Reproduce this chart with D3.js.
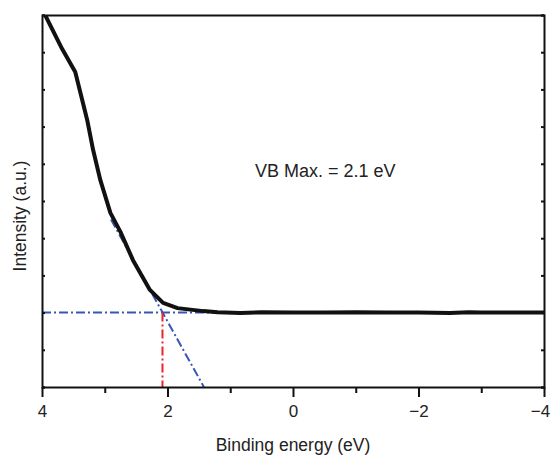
<!DOCTYPE html>
<html>
<head>
<meta charset="utf-8">
<script src="https://cdn.jsdelivr.net/npm/d3@7/dist/d3.min.js"></script>
<style>
  body { margin: 0; background: #fff; }
  svg { display: block; font-family: "Liberation Sans", Arial, sans-serif; }
</style>
</head>
<body>
<svg class="chart" width="552" height="455"></svg>
<script>
// spectrum: binding energy (eV) / intensity (a.u.)
const energy = [4.0, 3.95, 3.68, 3.47, 3.28, 3.185, 3.07, 2.91, 2.75, 2.55, 2.28, 2.07, 1.84, 1.43, 1.2, 0.84, 0.5, 0.0, -0.5, -1.0, -1.5, -2.0, -2.5, -2.8, -3.0, -3.5, -4.0];
const intensity = [10.2, 10.0, 9.09, 8.47, 7.18, 6.37, 5.56, 4.68, 4.17, 3.41, 2.61, 2.26, 2.12, 2.04, 2.01, 1.99, 2.01, 2.0, 2.0, 2.01, 2.0, 2.0, 1.99, 2.01, 2.0, 2.0, 2.0];
const baseline = 2.0;
const vbMax = 2.08;
const tangentE = [2.9, 1.42];
const tangentI = [4.5, 0];
const xTicks = [4, 3, 2, 1, 0, -1, -2, -3, -4];
const xLabels = ['4', '', '2', '', '0', '', '\u22122', '', '\u22124'];
const yTicks = [0, 1, 2, 3, 4, 5, 6, 7, 8, 9, 10];

const startApp = () => {
  const margin = { top: 15, left: 42, bottom: 68, right: 8 };
  const width = 552 - margin.left - margin.right;
  const height = 455 - margin.top - margin.bottom;
  const xScale = d3.scaleLinear().domain([4, -4]).range([0, width]);
  const yScale = d3.scaleLinear().domain([0, 10]).range([height, 0]);

  const svg = d3.select('.chart');
  const chart = svg.append('g')
    .attr('transform', `translate(${margin.left}, ${margin.top})`);

  svg.append('clipPath').attr('id', 'plot')
    .append('rect').attr('x', 0).attr('y', 0).attr('width', width).attr('height', height);

  const spectrum = energy.map((e, i) => [e, intensity[i]]);
  const line = d3.line().x(d => xScale(d[0])).y(d => yScale(d[1]));

  // fit lines
  chart.append('path')
    .datum([[4, baseline], [-4, baseline]])
    .attr('d', line)
    .attr('fill', 'none').attr('stroke', '#3556b8').attr('stroke-width', 2)
    .attr('stroke-dasharray', '9,3,2,3');

  chart.append('path')
    .datum(tangentE.map((e, i) => [e, tangentI[i]]))
    .attr('d', line)
    .attr('fill', 'none').attr('stroke', '#3556b8').attr('stroke-width', 2)
    .attr('stroke-dasharray', '9,3,2,3');

  chart.append('path')
    .datum([[vbMax, baseline], [vbMax, 0]])
    .attr('d', line)
    .attr('fill', 'none').attr('stroke', '#e8262a').attr('stroke-width', 2)
    .attr('stroke-dasharray', '9,3,2,3');

  chart.append('path')
    .datum(spectrum)
    .attr('clip-path', 'url(#plot)')
    .attr('d', line)
    .attr('fill', 'none').attr('stroke', '#111').attr('stroke-width', 4)
    .attr('stroke-linejoin', 'round');

  // axes
  const xAxis = d3.axisBottom(xScale).tickValues(xTicks)
    .tickFormat((d, i) => xLabels[i]).tickSizeOuter(0).tickPadding(12);
  const gx = chart.append('g').attr('transform', `translate(0, ${height})`).call(xAxis);
  gx.selectAll('.tick line').attr('y2', (d, i) => xLabels[i] ? 10 : 6);

  chart.append('g').call(d3.axisLeft(yScale).tickValues(yTicks).tickSize(-3).tickFormat(''));
  chart.append('g').attr('transform', `translate(${width}, 0)`)
    .call(d3.axisRight(yScale).tickValues(yTicks).tickSize(-3).tickFormat(''));
  chart.append('g').call(d3.axisTop(xScale).tickValues(xTicks).tickSize(0).tickFormat(''));

  chart.selectAll('.domain').attr('stroke', '#111').attr('stroke-width', 2);
  chart.selectAll('.tick line').attr('stroke', '#111').attr('stroke-width', 2);
  gx.selectAll('.tick text').attr('font-size', 17).attr('fill', '#222')
    .attr('font-family', '"Liberation Sans", Arial, sans-serif');
  gx.selectAll('.tick text').filter((d, i) => i === xTicks.length - 1).attr('dx', -4);

  chart.append('text')
    .attr('x', width / 2).attr('y', height + 64)
    .attr('text-anchor', 'middle').attr('font-size', 17.5).attr('fill', '#222')
    .text('Binding energy (eV)');

  chart.append('text')
    .attr('transform', `translate(${-16}, ${height / 2 + 15}) rotate(-90)`)
    .attr('text-anchor', 'middle').attr('font-size', 17.5).attr('fill', '#222')
    .text('Intensity (a.u.)');

  chart.append('text')
    .attr('x', 213).attr('y', 162)
    .attr('font-size', 18).attr('fill', '#222')
    .text('VB Max. = 2.1 eV');
};

window.onload = startApp;
</script>
</body>
</html>
